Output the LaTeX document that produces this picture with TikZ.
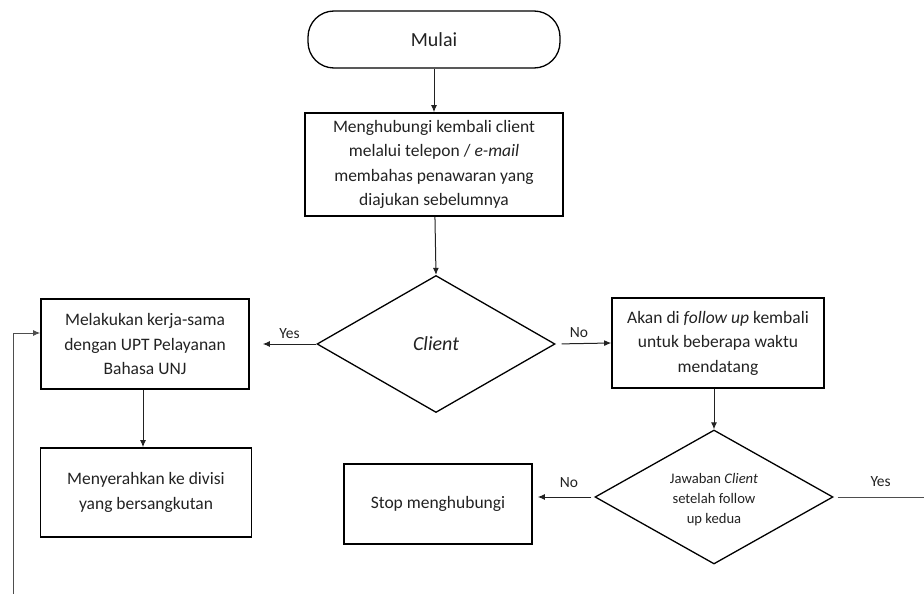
\documentclass[tikz,border=0pt]{standalone}
\usepackage{fontspec}
\setmainfont{Carlito}
\usetikzlibrary{arrows.meta,shapes.geometric}
\definecolor{ink}{HTML}{222222}
\begin{document}
\begin{tikzpicture}[x=1pt,y=-1pt,
  box/.style={draw=black,line width=1.6pt,rectangle,align=center,inner sep=2pt,
    text=ink,font=\fontsize{17.5}{24.5}\selectfont},
  term/.style={draw=black,line width=1.3pt,rectangle,rounded corners=26pt,
    text=ink,font=\fontsize{20}{24}\selectfont},
  decide/.style={draw=black,line width=1.3pt,diamond,align=center,inner sep=0pt,
    text=ink},
  flow/.style={line width=1pt,draw=ink,-{Latex[length=7pt,width=6pt]}},
  plain/.style={line width=1pt,draw=ink!80},
  lbl/.style={text=ink,font=\fontsize{15.5}{17}\selectfont}]
\useasboundingbox (0,0) rectangle (924,594);

% main column
\node[term,minimum width=252pt,minimum height=57pt] (start) at (434,39.5) {Mulai};
\node[box,minimum width=258pt,minimum height=103pt] (contact) at (434,164.5)
  {Menghubungi kembali client\\ melalui telepon / \textit{e-mail}\\
   membahas penawaran yang\\ diajukan sebelumnya};
\node[decide,minimum width=238pt,minimum height=137pt,
  font=\fontsize{20}{24}\selectfont\itshape] (client) at (436,344) {Client};

% left branch
\node[box,minimum width=208pt,minimum height=90pt] (coop) at (145,344)
  {Melakukan kerja-sama\\ dengan UPT Pelayanan\\ Bahasa UNJ};
\node[box,minimum width=211pt,minimum height=89pt] (handover) at (146,492.5)
  {Menyerahkan ke divisi\\ yang bersangkutan};

% right branch
\node[box,minimum width=212pt,minimum height=90pt] (follow) at (718,343)
  {Akan di \textit{follow up} kembali\\ untuk beberapa waktu\\ mendatang};
\node[decide,minimum width=238pt,minimum height=134pt] (answer) at (714,497) {};
\node[align=center,text=ink,font=\fontsize{14.6}{20}\selectfont] (answertext)
  at ([yshift=-3pt]answer.center)
  {Jawaban \textit{Client}\\ setelah follow\\ up kedua};
\node[box,minimum width=188pt,minimum height=80pt] (stop) at (438,504)
  {Stop menghubungi};

% loose ends of the return loop
\coordinate (loopbot) at (13,594);
\coordinate (rightend) at (924,497);

% connectors
\draw[flow] (start) -- (contact);
\draw[flow] (contact) -- (client.north);
\draw[flow] (client.west) -- ([xshift=13pt]coop.east)
  node[lbl,pos=0.5,above=2pt] {Yes};
\draw[flow,shorten <=6pt] (client.east) -- (follow.west)
  node[lbl,pos=0.42,above=2pt] {No};
\draw[flow] (coop.south -| 143,0) -- (handover.north -| 143,0);
\draw[flow] (answer.north |- follow.south) -- (answer.north);
\draw[flow,shorten <=3pt] (answer.west) -- ([xshift=5pt]stop.east |- answer.west)
  node[lbl,pos=0.45,above=6pt] {No};
\draw[plain,shorten <=4pt] (answer.east) -- (rightend)
  node[lbl,pos=0.52,above=7pt] {Yes};
\draw[flow,draw=ink!80] (loopbot) |- ([yshift=11pt]coop.west);
\end{tikzpicture}
\end{document}
